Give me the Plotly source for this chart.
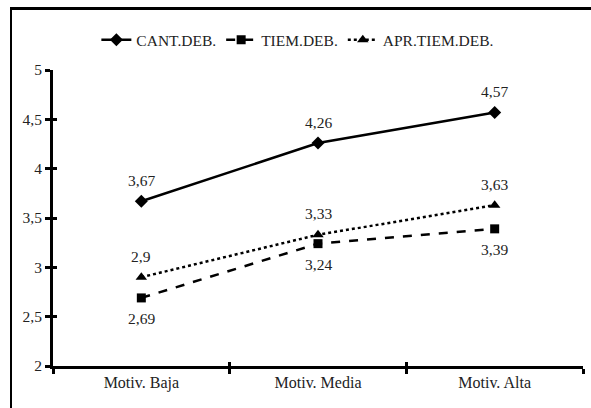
import plotly.graph_objects as go

categories = ["Motiv. Baja", "Motiv. Media", "Motiv. Alta"]
cant_deb = [3.67, 4.26, 4.57]
tiem_deb = [2.69, 3.24, 3.39]
apr_tiem_deb = [2.9, 3.33, 3.63]
series_names = ["CANT.DEB.", "TIEM.DEB.", "APR.TIEM.DEB."]
y_ticks = [2, 2.5, 3, 3.5, 4, 4.5, 5]

FONT = "Liberation Serif, serif"
FS = 15.5

fig = go.Figure()
styles = [
    (cant_deb, "solid", "diamond", 10, 21),
    (tiem_deb, "dash", "square", 9, -21),
    (apr_tiem_deb, "dot", "triangle-up", 10, 21),
]
annotations = []
for name, (vals, dash, sym, msize, shift) in zip(series_names, styles):
    fig.add_trace(go.Scatter(
        x=categories, y=vals, name=name, mode="lines+markers",
        line=dict(color="black", width=2.5, dash=dash),
        marker=dict(symbol=sym, size=msize, color="black"),
        hoverinfo="skip",
    ))
    for c, v in zip(categories, vals):
        annotations.append(dict(
            x=c, y=v, xref="x", yref="y", text=f"{v:g}".replace(".", ","),
            showarrow=False, yshift=shift,
            font=dict(family=FONT, size=FS, color="#222"),
        ))

# invisible trace on overlay axes (for crossing ticks)
fig.add_trace(go.Scatter(
    x=categories, y=cant_deb, xaxis="x2", yaxis="y2", mode="markers",
    marker=dict(opacity=0), showlegend=False, hoverinfo="skip",
))

fig.update_layout(
    width=591, height=408,
    margin=dict(l=53, r=8, t=70, b=42, autoexpand=False),
    paper_bgcolor="white", plot_bgcolor="white",
    separators=",.",
    font=dict(family=FONT, size=FS, color="#222"),
    showlegend=True,
    legend=dict(
        orientation="h", x=0.462, xanchor="center", y=1.101, yanchor="middle",
        font=dict(family=FONT, size=FS, color="#222"),
        bgcolor="rgba(0,0,0,0)", traceorder="normal", itemwidth=30,
    ),
    xaxis=dict(
        type="category", categoryorder="array", categoryarray=categories,
        range=[-0.5, 2.5], tickson="boundaries", ticks="outside", ticklen=5,
        tickwidth=3, tickcolor="black", showline=True, linecolor="black",
        linewidth=3, showgrid=False, zeroline=False, automargin=False,
        tickfont=dict(family=FONT, size=16, color="#222"), fixedrange=True,
    ),
    yaxis=dict(
        range=[2, 5], tickvals=y_ticks, ticks="outside", ticklen=5,
        tickwidth=3, tickcolor="black", showline=True, linecolor="black",
        linewidth=3, showgrid=False, zeroline=False, automargin=False,
        tickfont=dict(family=FONT, size=FS, color="#222"), fixedrange=True,
    ),
    xaxis2=dict(
        type="category", categoryorder="array", categoryarray=categories,
        overlaying="x", range=[-0.5, 2.5], tickson="boundaries",
        ticks="inside", ticklen=4, tickwidth=3, tickcolor="black",
        showticklabels=False, showline=False, showgrid=False, zeroline=False,
        fixedrange=True, automargin=False,
    ),
    yaxis2=dict(
        overlaying="y", range=[2, 5], tickvals=y_ticks, ticks="inside",
        ticklen=4, tickwidth=3, tickcolor="black", showticklabels=False,
        showline=False, showgrid=False, zeroline=False, fixedrange=True,
        automargin=False,
    ),
    annotations=annotations,
    shapes=[
        dict(type="rect", xref="paper", yref="paper",
             xsizemode="pixel", ysizemode="pixel", xanchor=0, yanchor=1,
             x0=-42, x1=700, y0=-500, y1=62,
             line=dict(color="black", width=2), fillcolor="rgba(0,0,0,0)",
             layer="above"),
    ],
)

post = (
    "document.body.style.margin='0';"
    "document.body.style.overflow='hidden';"
    "var b=document.createElement('div');"
    "b.style.cssText='position:absolute;left:10px;top:8px;width:700px;height:600px;"
    "border-left:2px solid black;border-top:2px solid black;pointer-events:none;';"
    "document.body.appendChild(b);"
)

fig.write_html(
    "out.html",
    config={"displayModeBar": False},
    post_script=post,
)
